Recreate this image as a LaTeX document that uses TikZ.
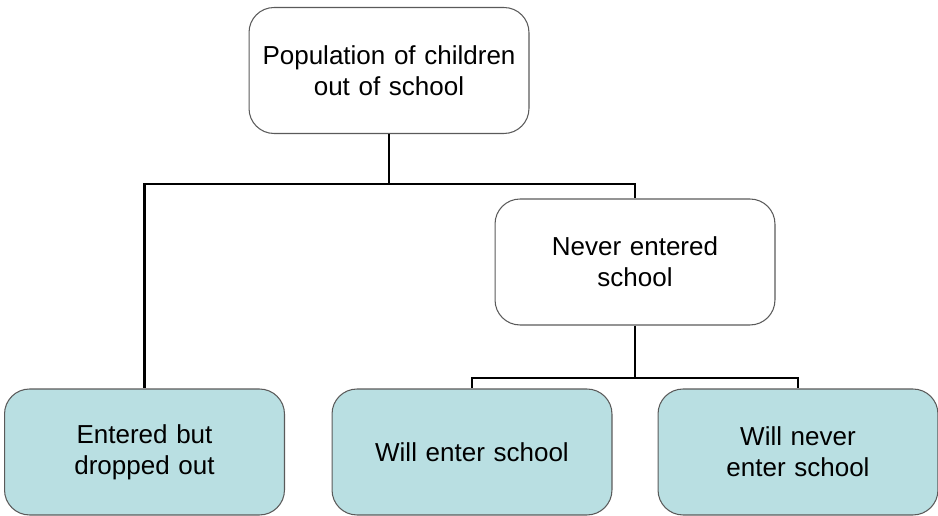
\documentclass[tikz,border=0pt]{standalone}
\usepackage{fontspec}
\setmainfont{Liberation Sans}
\usepackage{xcolor}
\usetikzlibrary{positioning}
\definecolor{boxteal}{HTML}{B9DFE2}
\definecolor{boxline}{HTML}{5A5A5A}

\begin{document}
\begin{tikzpicture}
  [x=0.02cm,y=-0.02cm,
   every node/.style={rectangle,rounded corners=0.5cm,draw=boxline,line width=0.6pt,
     minimum width=5.6cm,minimum height=2.52cm,text width=5.2cm,align=center,
     font=\fontsize{14.8pt}{17.6pt}\selectfont},
   leaf/.style={fill=boxteal},
   link/.style={line width=1.7pt}]
  \useasboundingbox (0,0) rectangle (938,516);
  \node (n1) at (389,70.5) {Population of children\\out of school};
  \node (n2) at (635,262) {Never entered\\school};
  \node[leaf] (n3) at (144.5,452) {Entered but\\dropped out};
  \node[leaf] (n4) at (472,452) {Will enter school};
  \node[leaf] (n5) at (798,452) {Will never\\enter school};

  \coordinate (j1) at (389,184);
  \coordinate (j2) at (635,378);
  \draw[link] (n1.south) -- (j1);
  \draw[link] (n2.south) -- (j2);
  \foreach \from/\to in {j1/n3,j1/n2,j2/n4,j2/n5}
    \draw[link] (\from) -| (\to.north);

\end{tikzpicture}
\end{document}
